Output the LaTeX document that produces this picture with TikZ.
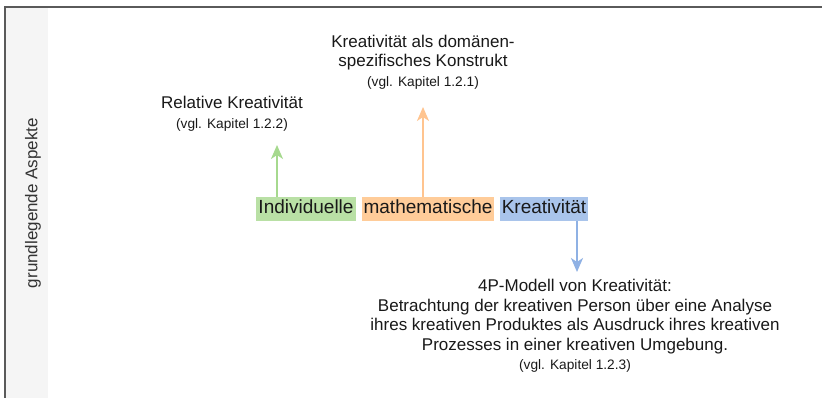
\documentclass[tikz,border=0pt]{standalone}
\usepackage{fontspec}
\setmainfont{Liberation Sans}
\usetikzlibrary{arrows.meta}

\definecolor{framegray}{HTML}{5A5A5A}
\definecolor{lanegray}{HTML}{F5F5F5}
\definecolor{greenfill}{HTML}{B9E0A5}
\definecolor{orangefill}{HTML}{FFCC99}
\definecolor{bluefill}{HTML}{A9C4EB}
\definecolor{greenline}{HTML}{A6D98E}
\definecolor{orangeline}{HTML}{FFC48F}
\definecolor{blueline}{HTML}{8FB1E4}

% smaller type for the chapter references
\newcommand{\chapref}{\fontsize{13.7}{19.5}\selectfont}

\tikzset{
  word/.style={inner xsep=2pt, inner ysep=3pt, text height=14pt, text depth=4.5pt,
               font=\fontsize{19}{22}\selectfont, text=black!90},
  label/.style={align=center, font=\fontsize{17}{19.5}\selectfont, text=black!90},
  link/.style={line width=2pt, -{Stealth[length=14pt, width=12pt, inset=4pt]}},
}

\begin{document}
\begin{tikzpicture}[x=1pt, y=-1pt]
  \useasboundingbox (0,0) rectangle (822,398);
  \fill[white] (0,0) rectangle (822,398);

  % swimlane with its header column
  \fill[lanegray] (5,7) rectangle (48,398);
  \draw[framegray, line width=1.5pt] (822,7) -- (5,7) -- (5,398);
  \node[rotate=90, font=\fontsize{17}{19}\selectfont, text=black!80] (lane) at (33,203) {grundlegende Aspekte};

  % the three words of the central term
  \node[word, fill=greenfill]  (ind)  at (306,209) {Individuelle};
  \node[word, fill=orangefill] (math) at (428,209) {mathematische};
  \node[word, fill=bluefill]   (krea) at (544,209) {Kreativität};

  % aspects
  \node[label] (rel) at (232,114) {Relative Kreativität\\{\chapref (vgl. Kapitel 1.2.2)}};
  \node[label] (dom) at (423,62) {Kreativität als domänen-\\spezifisches Konstrukt\\{\chapref (vgl. Kapitel 1.2.1)}};
  \node[label] (pmod) at (575,326) {4P-Modell von Kreativität:\\Betrachtung der kreativen Person über eine Analyse\\ihres kreativen Produktes als Ausdruck ihres kreativen\\Prozesses in einer kreativen Umgebung.\\{\chapref (vgl. Kapitel 1.2.3)}};

  % arrow ends
  \coordinate (relTip) at (277,145);
  \coordinate (domTip) at (423,107);
  \coordinate (pmTip)  at (577,272);

  \draw[link, greenline]  ([xshift=-29pt]ind.north)  -- (relTip);
  \draw[link, orangeline] ([xshift=-5pt]math.north)  -- (domTip);
  \draw[link, blueline]   ([xshift=33pt]krea.south)  -- (pmTip);
\end{tikzpicture}
\end{document}
